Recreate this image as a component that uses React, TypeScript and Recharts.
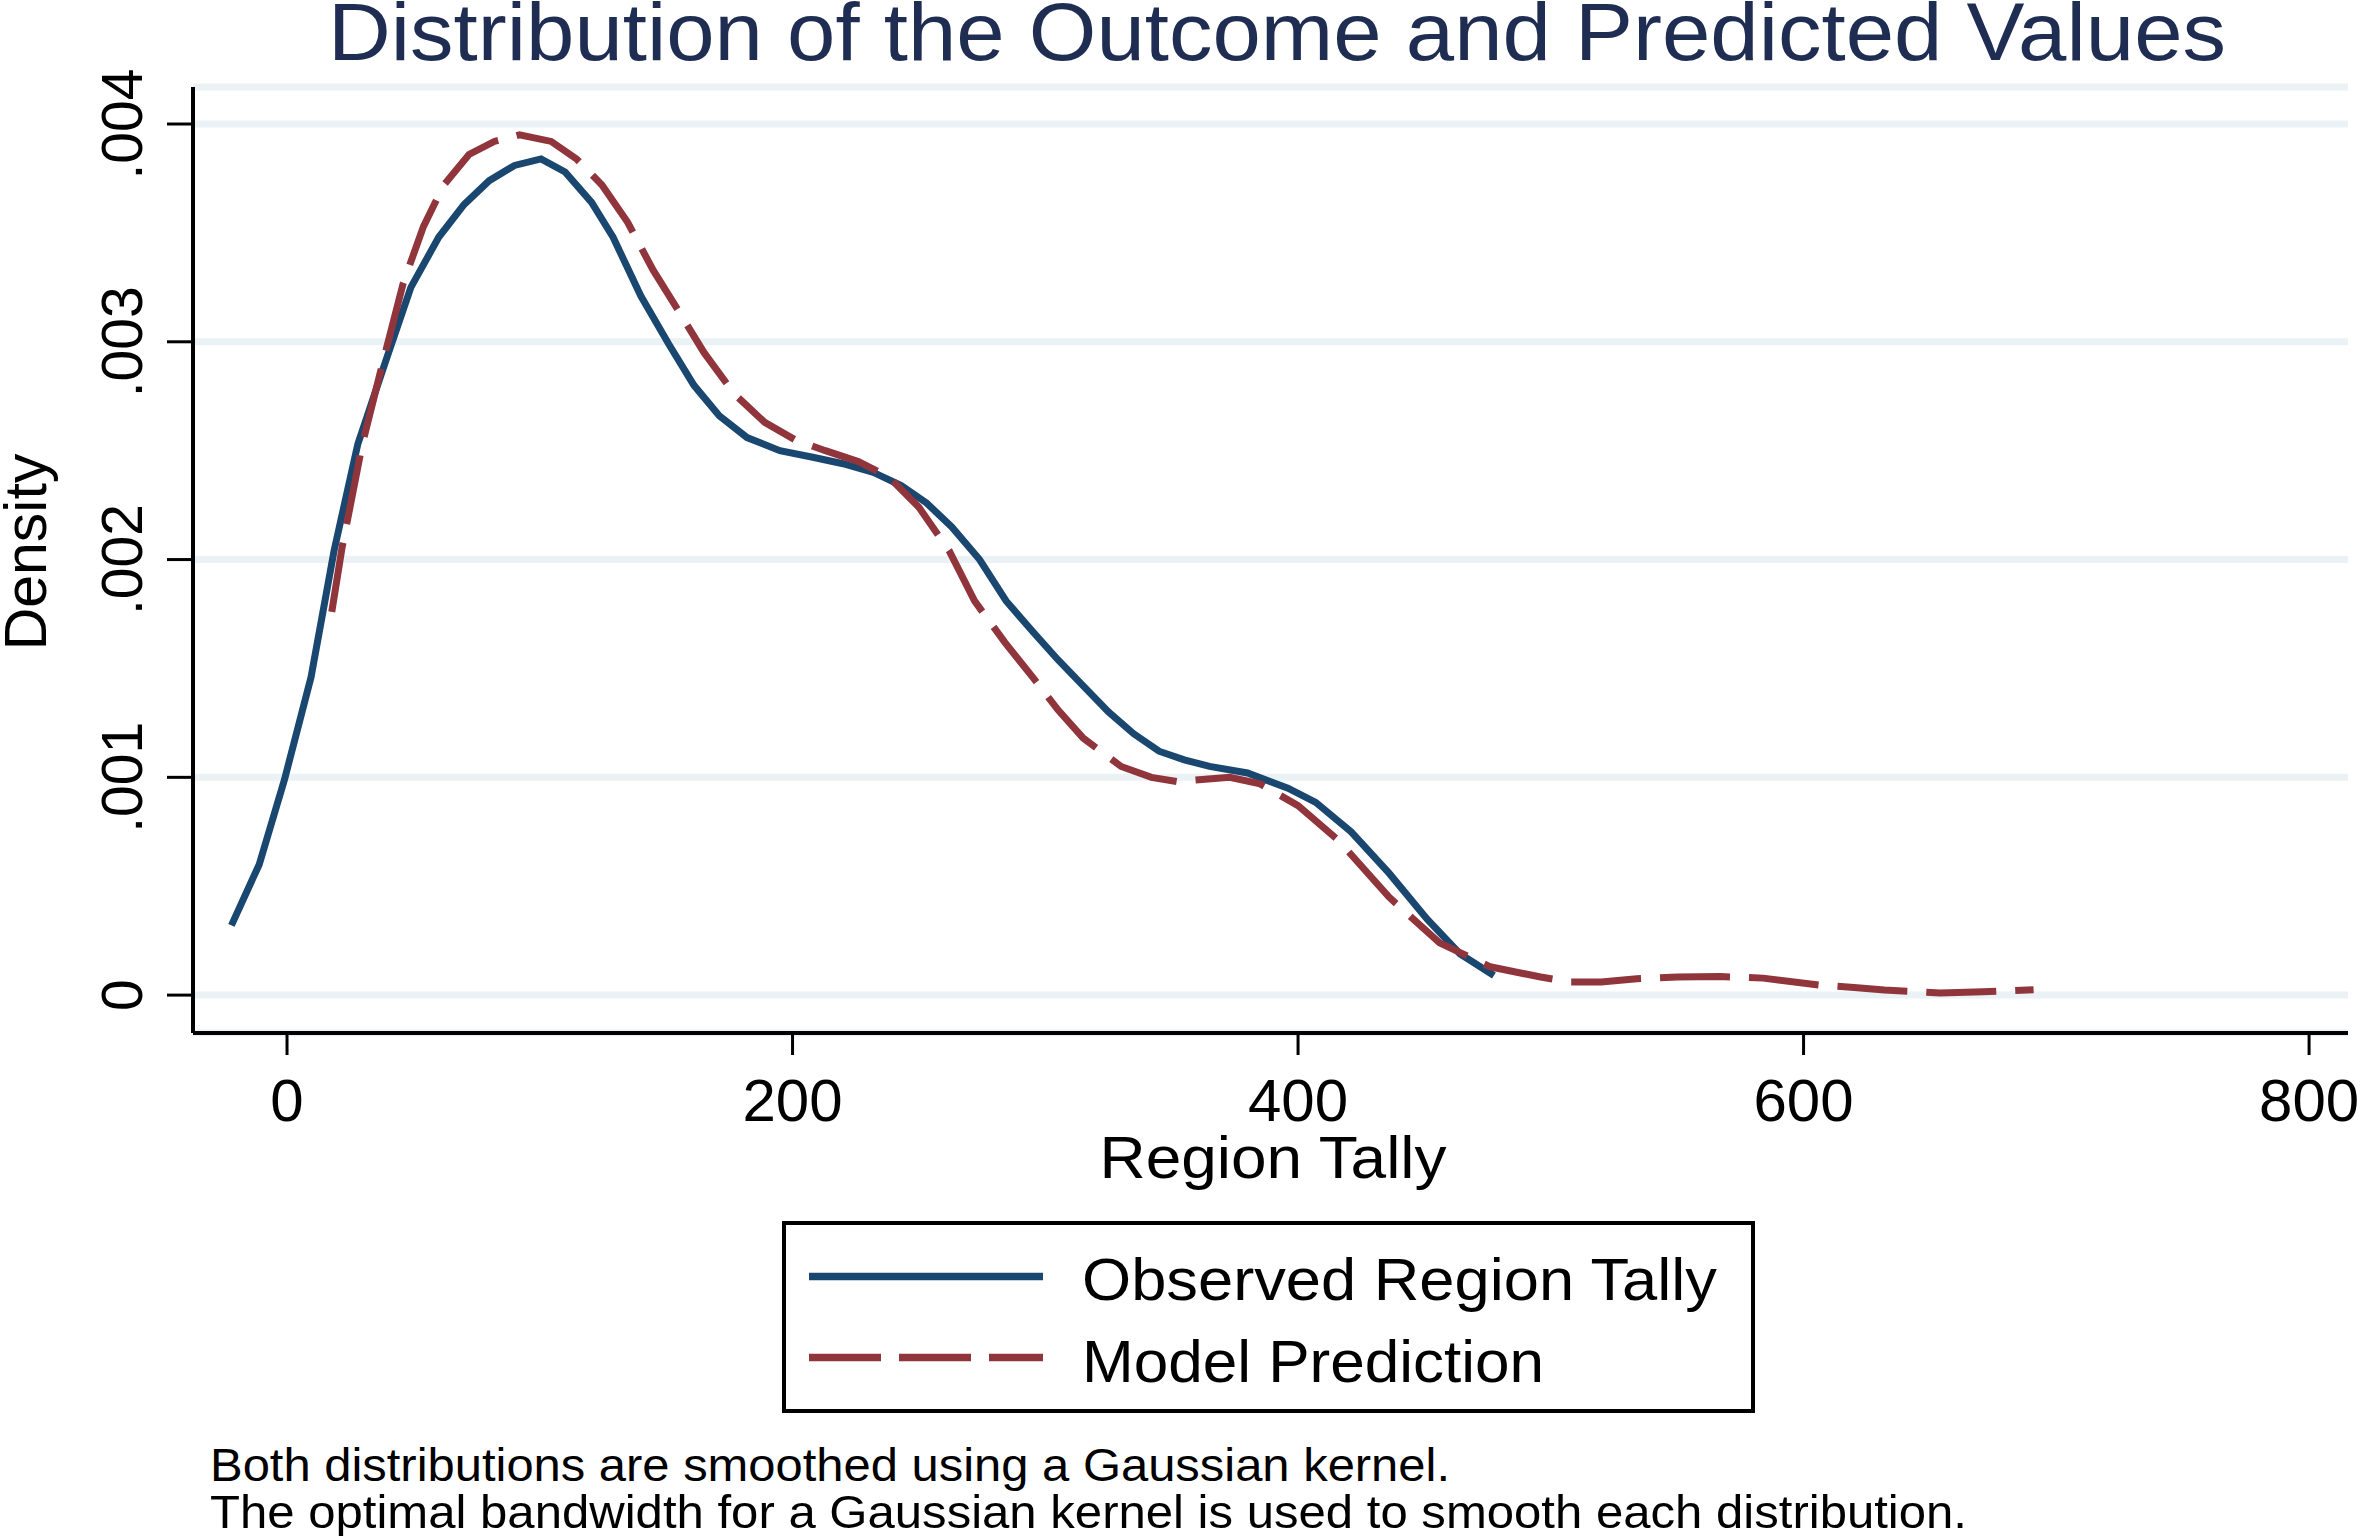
import React from "react";
import { LineChart, Line, XAxis, YAxis, CartesianGrid } from "recharts";

// kernel density estimates
const observedX = [-22, -11, -1, 9.5, 18.6, 28, 39, 49, 60, 70, 80, 90, 100.5, 110, 120.5, 129, 140, 151, 161, 171, 182, 195, 208, 220, 232, 243, 253, 263, 274, 284.5, 295, 305, 315, 325, 335, 345, 355, 365, 380, 396, 407, 421, 436, 451, 464, 477.5];
const observedY = [0.00032, 0.0006, 0.00099, 0.00146, 0.00204, 0.00253, 0.00291, 0.00325, 0.00348, 0.00363, 0.00374, 0.00381, 0.00384, 0.00378, 0.00364, 0.00348, 0.00321, 0.00299, 0.0028, 0.00266, 0.00256, 0.0025, 0.00247, 0.00244, 0.0024, 0.00234, 0.00226, 0.00215, 0.002, 0.00181, 0.00167, 0.00154, 0.00142, 0.0013, 0.0012, 0.00112, 0.00108, 0.00105, 0.00102, 0.00095, 0.000885, 0.00075, 0.00056, 0.00035, 0.00019, 0.00009];

const predictedX = [17.7, 21.7, 29.8, 38, 46, 54, 62, 72, 82, 92, 104.5, 114.5, 124.6, 134.7, 144.8, 155, 165, 177, 189, 201, 213, 226, 238, 250, 262, 272, 284, 295, 305, 315, 330, 342, 352.5, 362, 373, 385, 400, 416, 436, 456, 476, 496, 508, 520, 534, 550, 567, 584, 606, 620, 632, 654, 671, 691];
const predictedY = [0.00176, 0.00205, 0.00253, 0.00291, 0.00327, 0.00353, 0.00372, 0.00386, 0.00392, 0.00395, 0.00392, 0.00384, 0.00372, 0.00355, 0.00333, 0.00314, 0.00295, 0.00276, 0.00263, 0.00255, 0.0025, 0.00245, 0.00238, 0.00224, 0.00204, 0.00181, 0.00162, 0.00146, 0.00131, 0.00118, 0.00105, 0.001, 0.00098, 0.00099, 0.001, 0.00097, 0.00087, 0.00071, 0.00045, 0.00024, 0.00013, 0.000083, 0.00006, 0.00006, 0.000075, 0.000083, 0.000085, 0.000078, 0.000046, 0.000035, 0.000023, 0.00001, 0.000015, 0.000025];

const xTicks = [0, 200, 400, 600, 800];
const yTicks = [0, 0.001, 0.002, 0.003, 0.004];
const yTickLabels = ["0", ".001", ".002", ".003", ".004"];

const seriesNames = ["Observed Region Tally", "Model Prediction"];
const notes = [
  "Both distributions are smoothed using a Gaussian kernel.",
  "The optimal bandwidth for a Gaussian kernel is used to smooth each distribution.",
];

const FONT = '"Liberation Sans", Arial, Helvetica, sans-serif';
const NAVY = "#1a476f";
const MAROON = "#90353b";
const TITLE = "#1f2d52";
const GRID = "#eaf2f5";

const observed = observedX.map((x, i) => ({ x, y: observedY[i] }));
const predicted = predictedX.map((x, i) => ({ x, y: predictedY[i] }));

const XTick = ({ x, y, payload }: any) => (
  <text x={x} y={y + 64} textAnchor="middle" fontFamily={FONT} fontSize={60} fill="#000">
    {payload.value}
  </text>
);

const YTick = ({ x, y, payload }: any) => {
  const idx = yTicks.indexOf(payload.value);
  const bx = x - 23;
  return (
    <text
      x={bx}
      y={y}
      transform={`rotate(-90 ${bx} ${y})`}
      textAnchor="middle"
      fontFamily={FONT}
      fontSize={57}
      fill="#000"
    >
      {idx >= 0 ? yTickLabels[idx] : payload.value}
    </text>
  );
};

const Overlay = () => (
  <svg
    width={2362}
    height={1536}
    style={{ position: "absolute", left: 0, top: 0, pointerEvents: "none" }}
  >
    <text x={328} y={60} fontFamily={FONT} fontSize={81} fill={TITLE} textLength={1898} lengthAdjust="spacingAndGlyphs">
      Distribution of the Outcome and Predicted Values
    </text>
    <text
      x={46}
      y={552}
      transform="rotate(-90 46 552)"
      textAnchor="middle"
      fontFamily={FONT}
      fontSize={59}
      fill="#000"
    >
      Density
    </text>
    <text x={1273} y={1178} textAnchor="middle" fontFamily={FONT} fontSize={60} fill="#000" textLength={347} lengthAdjust="spacingAndGlyphs">
      Region Tally
    </text>

    {/* legend */}
    <rect x={784} y={1223} width={969} height={188} fill="#fff" stroke="#000" strokeWidth={4} />
    <line x1={809} x2={1043} y1={1276.5} y2={1276.5} stroke={NAVY} strokeWidth={7.5} />
    <line x1={809} x2={1043} y1={1357.5} y2={1357.5} stroke={MAROON} strokeWidth={7.5} strokeDasharray="72 18" />
    <text x={1082} y={1300} fontFamily={FONT} fontSize={60} fill="#000" textLength={635} lengthAdjust="spacingAndGlyphs">
      {seriesNames[0]}
    </text>
    <text x={1082} y={1382} fontFamily={FONT} fontSize={60} fill="#000" textLength={462} lengthAdjust="spacingAndGlyphs">
      {seriesNames[1]}
    </text>

    {/* notes */}
    <text x={210} y={1481} fontFamily={FONT} fontSize={47} fill="#000" textLength={1240} lengthAdjust="spacingAndGlyphs">
      {notes[0]}
    </text>
    <text x={210} y={1528} fontFamily={FONT} fontSize={47} fill="#000" textLength={1757} lengthAdjust="spacingAndGlyphs">
      {notes[1]}
    </text>
  </svg>
);

export default function App() {
  return (
    <div style={{ position: "absolute", left: 0, top: 0, width: 2362, height: 1536, background: "#fff" }}>
      <LineChart width={2362} height={1536} margin={{ top: 87, right: 14, bottom: 353, left: 0 }}>
        <CartesianGrid vertical={false} stroke={GRID} strokeWidth={7} />
        <XAxis
          dataKey="x"
          type="number"
          domain={[-37.2, 815.4]}
          allowDataOverflow
          ticks={xTicks}
          interval={0}
          height={150}
          tickSize={22}
          tickLine={{ stroke: "#000", strokeWidth: 3 }}
          axisLine={{ stroke: "#000", strokeWidth: 4 }}
          tick={<XTick />}
        />
        <YAxis
          dataKey="y"
          type="number"
          domain={[-0.000174, 0.00417]}
          allowDataOverflow
          ticks={yTicks}
          interval={0}
          width={193}
          tickSize={26}
          tickLine={{ stroke: "#000", strokeWidth: 3 }}
          axisLine={{ stroke: "#000", strokeWidth: 4 }}
          tick={<YTick />}
        />
        <Line
          data={observed}
          dataKey="y"
          type="linear"
          stroke={NAVY}
          strokeWidth={7}
          dot={false}
          activeDot={false}
          isAnimationActive={false}
        />
        <Line
          data={predicted}
          dataKey="y"
          type="linear"
          stroke={MAROON}
          strokeWidth={7}
          strokeDasharray="70 19"
          dot={false}
          activeDot={false}
          isAnimationActive={false}
        />
      </LineChart>
      <Overlay />
    </div>
  );
}
